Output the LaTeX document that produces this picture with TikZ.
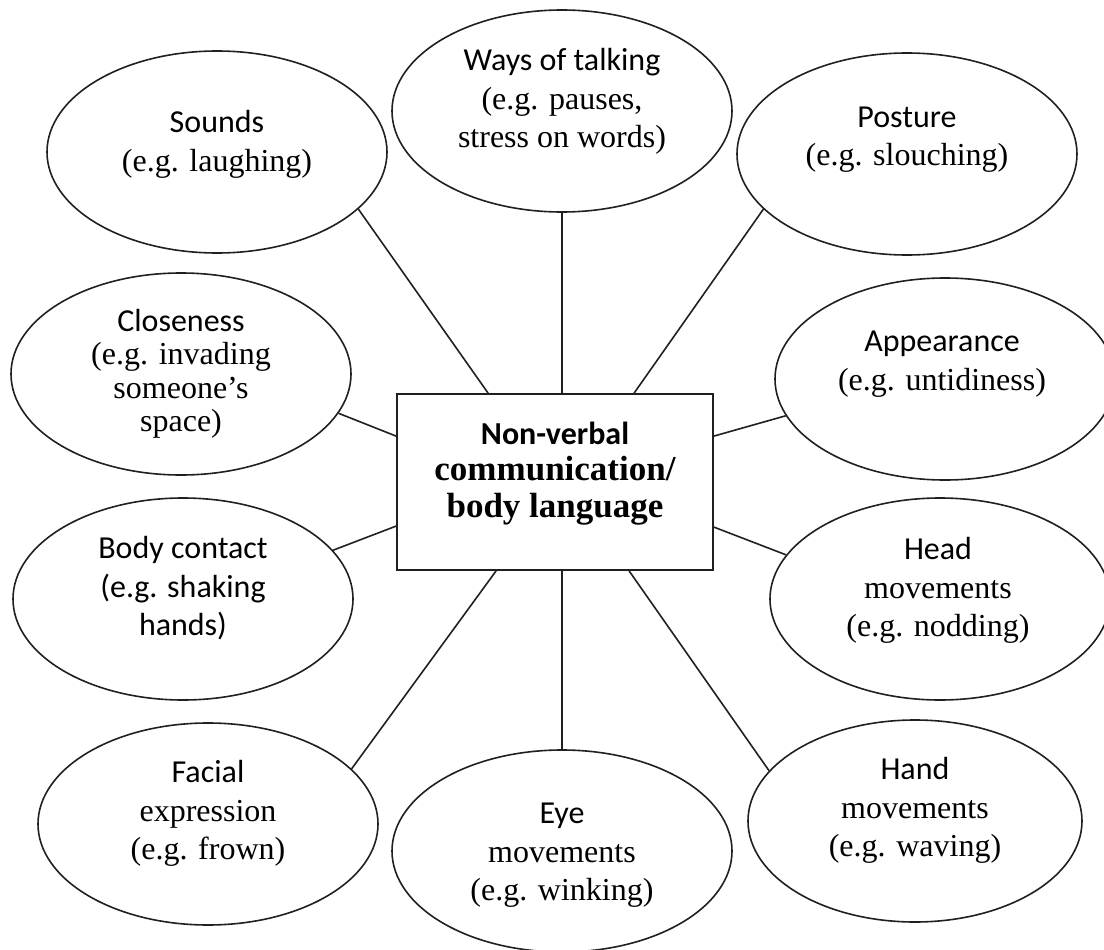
\documentclass[tikz,border=0pt]{standalone}
\usepackage{fontspec}
\setmainfont{Liberation Serif}
\setsansfont{Carlito}
\usetikzlibrary{shapes.geometric,calc}
\definecolor{ink}{HTML}{231F20}
\begin{document}
\begin{tikzpicture}[x=1pt,y=-1pt,
  bubble/.style={ellipse,draw=ink,line width=1.6pt,minimum width=340pt,minimum height=202pt,inner sep=0pt},
  lbl/.style={align=center,inner sep=0pt,font=\fontsize{32}{38.5}\selectfont},
  tight/.style={font=\fontsize{32}{33.5}\selectfont},
  link/.style={draw=ink,line width=1.6pt},
  hub/.style={rectangle,draw=ink,line width=1.8pt,minimum width=316pt,minimum height=176pt,inner sep=0pt}]
\useasboundingbox (0,0) rectangle (1104,950);
\clip (0,0) rectangle (1104,950);

% ellipses
\node[bubble] (snd) at (217,152) {};
\node[bubble] (way) at (562,111) {};
\node[bubble] (pos) at (907,154) {};
\node[bubble] (clo) at (181,374) {};
\node[bubble] (app) at (945,379) {};
\node[bubble] (bod) at (183,599) {};
\node[bubble] (hea) at (940,599) {};
\node[bubble] (fac) at (208,824) {};
\node[bubble] (eye) at (562,851) {};
\node[bubble,minimum width=334pt] (han) at (915,821) {};

% texts
\node[lbl] (sndT) at (217,144.5) {{\sffamily Sounds}\\(e.g. laughing)};
\node[lbl] (wayT) at (562,101.5) {{\sffamily Ways of talking}\\(e.g. pauses,\\stress on words)};
\node[lbl] (posT) at (907,139.5) {{\sffamily Posture}\\(e.g. slouching)};
\node[lbl,tight] (cloT) at (181,374) {{\sffamily Closeness}\\(e.g. invading\\someone’s\\space)};
\node[lbl] (appT) at (942,364) {{\sffamily Appearance}\\(e.g. untidiness)};
\node[lbl] (bodT) at (183,588.5) {\sffamily Body contact\\\sffamily (e.g. shaking\\\sffamily hands)};
\node[lbl] (heaT) at (938,590.5) {{\sffamily Head}\\movements\\(e.g. nodding)};
\node[lbl] (facT) at (208,813.5) {{\sffamily Facial}\\expression\\(e.g. frown)};
\node[lbl] (eyeT) at (562,855.5) {{\sffamily Eye}\\movements\\(e.g. winking)};
\node[lbl] (hanT) at (915,810.5) {{\sffamily Hand}\\movements\\(e.g. waving)};

% central box
\node[hub] (box) at (555,482) {};
\node[align=center,inner sep=0pt,font=\fontsize{35}{36.5}\selectfont\bfseries] (boxT) at (555,473.5)
  {{\sffamily\fontsize{32}{36.5}\selectfont Non-verbal}\\communication/\\body language};

% connectors
\draw[link] (snd.-22.4) -- ($(box.north west)+(92,0)$);
\draw[link] (way.south) -- (way.south |- box.north);
\draw[link] (pos.-159.4) -- ($(box.north west)+(238,0)$);
\draw[link] (clo.-14.7) -- ($(box.north west)+(0,43)$);
\draw[link] (app.193.4) -- ($(box.north east)+(0,43)$);
\draw[link] (bod.18.4) -- ($(box.north west)+(0,133)$);
\draw[link] (hea.164.7) -- ($(box.north east)+(0,134)$);
\draw[link] (fac.21.9) -- ($(box.south west)+(100,0)$);
\draw[link] (eye.north) -- (eye.north |- box.south);
\draw[link] (han.161.9) -- ($(box.south west)+(233,0)$);
\end{tikzpicture}
\end{document}
